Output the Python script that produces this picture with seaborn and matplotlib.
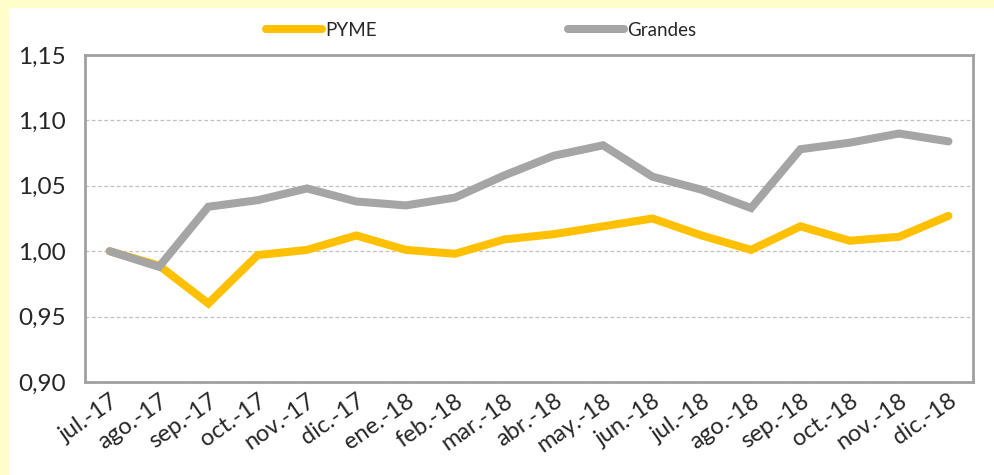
import numpy as np
import pandas as pd
import matplotlib.pyplot as plt
import seaborn as sns
from matplotlib.patches import Rectangle
from matplotlib.lines import Line2D

# datos
meses = ["jul.-17", "ago.-17", "sep.-17", "oct.-17", "nov.-17", "dic.-17",
         "ene.-18", "feb.-18", "mar.-18", "abr.-18", "may.-18", "jun.-18",
         "jul.-18", "ago.-18", "sep.-18", "oct.-18", "nov.-18", "dic.-18"]
pyme = [1.000, 0.989, 0.960, 0.997, 1.001, 1.012, 1.001, 0.998, 1.009,
        1.013, 1.019, 1.025, 1.012, 1.001, 1.019, 1.008, 1.011, 1.027]
grandes = [1.000, 0.988, 1.034, 1.039, 1.048, 1.038, 1.035, 1.041, 1.058,
           1.073, 1.081, 1.057, 1.047, 1.033, 1.078, 1.083, 1.090, 1.084]
y_ticks = [0.90, 0.95, 1.00, 1.05, 1.10, 1.15]

df = pd.DataFrame({"mes": meses * 2,
                   "valor": pyme + grandes,
                   "serie": ["PYME"] * len(meses) + ["Grandes"] * len(meses)})

sns.set_style("white")
plt.rcParams["font.family"] = ["Lato", "DejaVu Sans"]

fig = plt.figure(figsize=(9.94, 4.75), dpi=100)
ax = fig.add_axes([0.0855, 0.196, 0.8935, 0.688])

# marco amarillo
fig.patches.append(Rectangle((0, 0), 8 / 994, 1, transform=fig.transFigure,
                             color="#FFFFCC", zorder=0))
fig.patches.append(Rectangle((0, 1 - 7 / 475), 1, 7 / 475, transform=fig.transFigure,
                             color="#FFFFCC", zorder=0))

sns.lineplot(data=df, x="mes", y="valor", hue="serie", sort=False,
             palette={"PYME": "#FFC000", "Grandes": "#A5A5A5"},
             linewidth=5.8, ax=ax, legend=False)
for ln in ax.lines:
    ln.set_solid_capstyle("round")
    ln.set_solid_joinstyle("miter")

ax.set_xlim(-0.5, len(meses) - 0.5)
ax.set_ylim(0.90, 1.15)
ax.set_yticks(y_ticks)
ax.set_yticklabels([f"{v:.2f}".replace(".", ",") for v in y_ticks], fontsize=17.5)
ax.set_xticks(range(len(meses)))
ax.set_xticklabels(meses, rotation=35, ha="right", rotation_mode="anchor", fontsize=17)
ax.set_xlabel("")
ax.set_ylabel("")

ax.yaxis.grid(True, color="#C0C0C0", linestyle=(0, (3, 2)), linewidth=0.9)
ax.set_axisbelow(True)
for s in ax.spines.values():
    s.set_visible(True)
    s.set_color("#A0A0A0")
    s.set_linewidth(2)
ax.tick_params(axis="y", length=7, width=2, color="#A0A0A0", pad=7)
ax.tick_params(axis="x", length=0, pad=6)

# leyenda
handles = [Line2D([], [], color="#FFC000", linewidth=5.8, solid_capstyle="round"),
           Line2D([], [], color="#A5A5A5", linewidth=5.8, solid_capstyle="round")]
fig.legend(handles, ["PYME", "Grandes"], ncol=2, loc="center",
           bbox_to_anchor=(0.484, 1 - 30 / 475), frameon=False, fontsize=13.5,
           handlelength=3.0, handletextpad=0.15, columnspacing=10.2)

fig.savefig("out.png", dpi=100)
